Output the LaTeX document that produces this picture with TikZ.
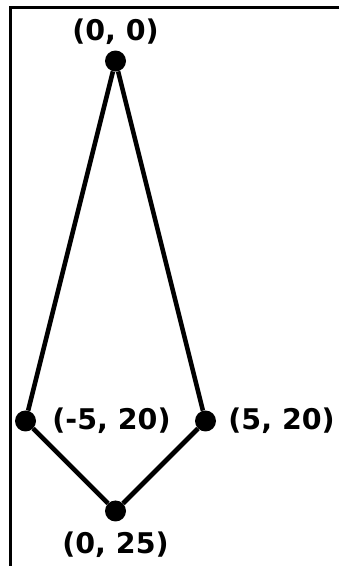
\documentclass[tikz,border=0pt]{standalone}
\usepackage{fontspec}
\setmainfont{DejaVu Sans}
\usepackage{tikz}
\usetikzlibrary{positioning}
\tikzset{
  ptnode/.style={circle, fill=black, minimum size=21pt, inner sep=0pt},
  ptlabel/.style={font=\fontsize{28.5}{34}\selectfont\bfseries, inner sep=3pt},
  edgeline/.style={line width=4.6pt, black},
  frameline/.style={line width=3pt, black},
}
\begin{document}
\begin{tikzpicture}[x=18pt, y=-18pt]
  \useasboundingbox (-6.417,-3.389) rectangle (12.417,28.056);
  \draw[frameline] (12.417,-3.0) -- (-5.806,-3.0) -- (-5.806,28.056);
  % points
  \node[ptnode] (top) at (0,0) {};
  \node[ptnode] (left) at (-5,20) {};
  \node[ptnode] (right) at (5,20) {};
  \node[ptnode] (bottom) at (0,25) {};
  % labels
  \node[ptlabel, above=3pt of top] (toplab) {(0, 0)};
  \node[ptlabel, right=13pt of left] (leftlab) {(-5, 20)};
  \node[ptlabel, right=9pt of right] (rightlab) {(5, 20)};
  \node[ptlabel, below=7pt of bottom] (bottomlab) {(0, 25)};
  % edges
  \draw[edgeline] (top) -- (left);
  \draw[edgeline] (top) -- (right);
  \draw[edgeline] (left) -- (bottom);
  \draw[edgeline] (bottom) -- (right);
\end{tikzpicture}
\end{document}
